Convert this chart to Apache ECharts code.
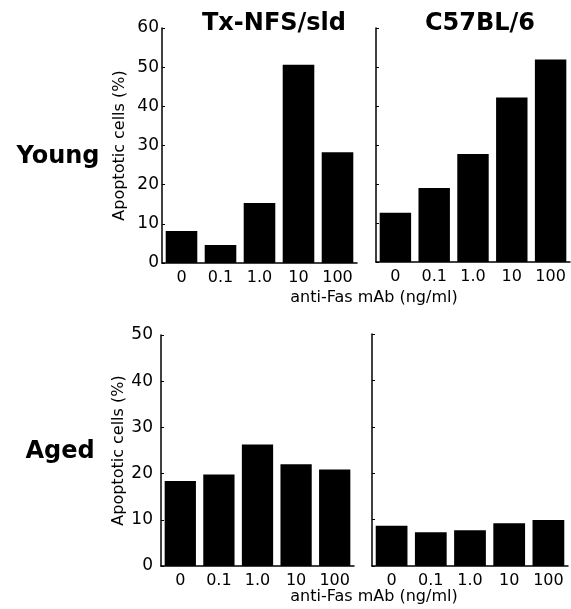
<!DOCTYPE html>
<html>
<head>
<meta charset="utf-8">
<script src="https://cdn.jsdelivr.net/npm/echarts@6/dist/echarts.min.js"></script>
<style>
  html, body { margin: 0; padding: 0; background: #fff; }
  #chart { width: 571px; height: 609px; }
</style>
</head>
<body>
<div id="chart"></div>
<script>
// anti-Fas mAb doses (ng/ml)
const doses = ['0', '0.1', '1.0', '10', '100']
// apoptotic cells (%)
const youngTx = [8.2, 4.6, 15.3, 50.6, 28.3]
const youngB6 = [12.6, 19.0, 27.7, 42.2, 51.9]
const agedTx = [18.4, 19.8, 26.3, 22.0, 20.9]
const agedB6 = [8.7, 7.3, 7.7, 9.2, 9.9]

const strains = ['Tx-NFS/sld', 'C57BL/6']
const ages = ['Young', 'Aged']
const yName = 'Apoptotic cells (%)'
const xName = 'anti-Fas mAb (ng/ml)'

const font = 'DejaVu Sans'

function xAxisFor(gridIndex) {
  return {
    type: 'category',
    gridIndex: gridIndex,
    data: doses,
    axisLine: { lineStyle: { color: '#000', width: 1.5 } },
    axisTick: { show: false },
    axisLabel: { interval: 0, color: '#000', fontFamily: font, fontSize: 16, margin: 7 }
  }
}

function yAxisFor(gridIndex, max, showLabel) {
  return {
    type: 'value',
    gridIndex: gridIndex,
    min: 0,
    max: max,
    interval: 10,
    splitLine: { show: false },
    axisLine: { show: true, lineStyle: { color: '#000', width: 1.5 } },
    axisTick: { show: true, inside: true, length: 3, lineStyle: { color: '#000' } },
    axisLabel: { show: showLabel, color: '#000', fontFamily: font, fontSize: 17, margin: showLabel && max === 60 ? 3 : 8 },
    name: showLabel ? yName : '',
    nameLocation: 'middle',
    nameGap: 34,
    nameTextStyle: { color: '#000', fontFamily: font, fontSize: 16 }
  }
}

function barsFor(index, data) {
  return {
    type: 'bar',
    xAxisIndex: index,
    yAxisIndex: index,
    data: data,
    barCategoryGap: '19%',
    itemStyle: { color: '#000' },
    animation: false
  }
}

function label(text, x, y, size, bold) {
  return {
    type: 'text',
    x: x,
    y: y,
    style: {
      text: text,
      fill: '#000',
      font: (bold ? 'bold ' : '') + size + 'px "' + font + '"',
      textAlign: 'center',
      textVerticalAlign: 'middle'
    }
  }
}

const chart = echarts.init(document.getElementById('chart'))
chart.setOption({
  backgroundColor: '#fff',
  grid: [
    { left: 162, top: 28, width: 195, height: 235 },
    { left: 376, top: 28, width: 194, height: 234 },
    { left: 161, top: 335, width: 193, height: 231 },
    { left: 372, top: 334, width: 196, height: 232 }
  ],
  xAxis: [xAxisFor(0), xAxisFor(1), xAxisFor(2), xAxisFor(3)],
  yAxis: [
    yAxisFor(0, 60, true),
    yAxisFor(1, 60, false),
    yAxisFor(2, 50, true),
    yAxisFor(3, 50, false)
  ],
  series: [
    barsFor(0, youngTx),
    barsFor(1, youngB6),
    barsFor(2, agedTx),
    barsFor(3, agedB6)
  ],
  graphic: [
    label(strains[0], 274, 24, 24, true),
    label(strains[1], 480, 24, 24, true),
    label(ages[0], 58, 157, 24, true),
    label(ages[1], 60, 452, 24, true),
    label(xName, 374, 298, 16, false),
    label(xName, 374, 597, 16, false)
  ]
})
</script>
</body>
</html>
